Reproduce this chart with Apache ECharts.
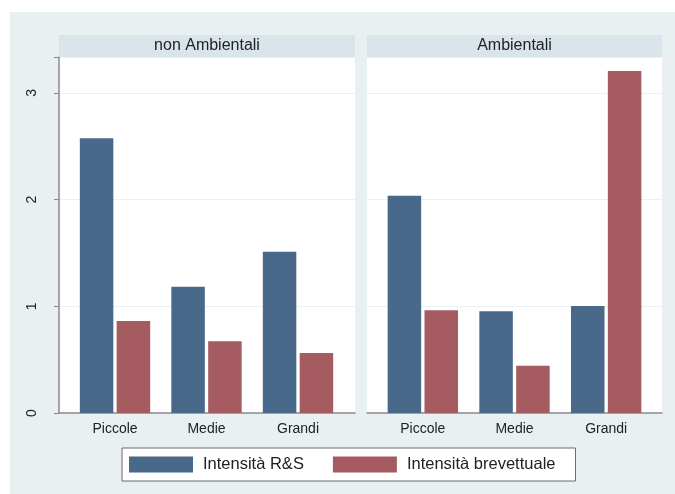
<!DOCTYPE html>
<html>
<head>
<meta charset="utf-8">
<script src="https://cdn.jsdelivr.net/npm/echarts@6/dist/echarts.min.js"></script>
<style>
html,body{margin:0;padding:0;background:#fff;}
#chart{width:675px;height:494px;}
</style>
</head>
<body>
<div id="chart"></div>
<script>
const panels = ['non Ambientali', 'Ambientali'];
const categories = ['Piccole', 'Medie', 'Grandi'];
const seriesNames = ['Intensità R&S', 'Intensità brevettuale'];
const rdNonAmb = [2.575, 1.184, 1.512];
const brevNonAmb = [0.862, 0.672, 0.562];
const rdAmb = [2.037, 0.953, 1.003];
const brevAmb = [0.962, 0.443, 3.205];
const yTicks = [0, 1, 2, 3];

const navy = '#48698a';
const maroon = '#a55b60';
const FONT = '"Liberation Sans", Arial, sans-serif';

const yMax = 3.337;
const plotTop = 57, plotH = 356;
const frames = [{left: 59, width: 296}, {left: 367, width: 295}];
const barGrids = [{left: 69.25, width: 274.5}, {left: 377, width: 275}];

const chart = echarts.init(document.getElementById('chart'), null, {renderer: 'canvas'});

const grids = [], xAxes = [], yAxes = [], series = [];
frames.forEach((f, i) => {
  grids.push({left: f.left, top: plotTop, width: f.width, height: plotH, show: true,
    backgroundColor: '#ffffff', borderWidth: 0, containLabel: false});
  xAxes.push({type: 'value', gridIndex: i, min: 0, max: 1,
    axisLine: {show: true, onZero: false, lineStyle: {color: '#8a8a8a', width: 1.5}},
    axisTick: {show: false}, axisLabel: {show: false}, splitLine: {show: false}});
  yAxes.push({type: 'value', gridIndex: i, min: 0, max: yMax, interval: 1,
    axisLine: {show: i === 0, lineStyle: {color: '#8a8a8a', width: 1.5}},
    axisTick: {show: i === 0, length: 5, lineStyle: {color: '#8a8a8a'}},
    axisLabel: {show: i === 0, rotate: 90, margin: 20, fontSize: 14, color: '#222', fontFamily: FONT,
      formatter: v => yTicks.includes(v) ? String(v) : ''},
    splitLine: {show: true, lineStyle: {color: '#eaf1f3', width: 1}}});
});
barGrids.forEach((g, j) => {
  const gi = 2 + j;
  grids.push({left: g.left, top: plotTop, width: g.width, height: plotH, containLabel: false});
  xAxes.push({type: 'category', gridIndex: gi, data: categories,
    axisLine: {show: false}, axisTick: {show: false},
    axisLabel: {show: true, margin: 9, fontSize: 14, color: '#222', fontFamily: FONT}});
  yAxes.push({type: 'value', gridIndex: gi, min: 0, max: yMax, show: false, splitLine: {show: false}});
});
const dataSets = [[rdNonAmb, brevNonAmb], [rdAmb, brevAmb]];
dataSets.forEach((pair, j) => {
  pair.forEach((vals, k) => {
    series.push({type: 'bar', name: seriesNames[k], xAxisIndex: 2 + j, yAxisIndex: 2 + j,
      data: vals, barWidth: 33.5, barGap: '10%',
      itemStyle: {color: k === 0 ? navy : maroon}, emphasis: {disabled: true}});
  });
});

const graphics = [];
graphics.push({type: 'rect', shape: {x: 10, y: 12, width: 665, height: 482},
  style: {fill: '#e8f0f2'}, z: -10, silent: true});
frames.forEach((f, i) => {
  graphics.push({type: 'rect', shape: {x: f.left, y: 35, width: f.width, height: 22},
    style: {fill: '#d9e5eb'}, z: 1});
  graphics.push({type: 'text', x: f.left + f.width / 2, y: 46, z: 2,
    style: {text: panels[i], fill: '#222', fontSize: 16, fontFamily: FONT, textAlign: 'center', textVerticalAlign: 'middle'}});
});

chart.setOption({
  animation: false,
  backgroundColor: '#ffffff',
  graphic: graphics,
  grid: grids,
  xAxis: xAxes,
  yAxis: yAxes,
  legend: {
    data: seriesNames, left: 122, top: 448, orient: 'horizontal',
    itemWidth: 64, itemHeight: 16, itemGap: 29,
    icon: 'rect', backgroundColor: '#ffffff', borderColor: '#6a6a6a', borderWidth: 1,
    borderRadius: 0, padding: [8, 20, 8, 7],
    textStyle: {fontSize: 16.5, color: '#222', fontFamily: FONT, padding: [1, 0, 0, 5]},
    selectedMode: false
  },
  series: series
});
</script>
</body>
</html>
